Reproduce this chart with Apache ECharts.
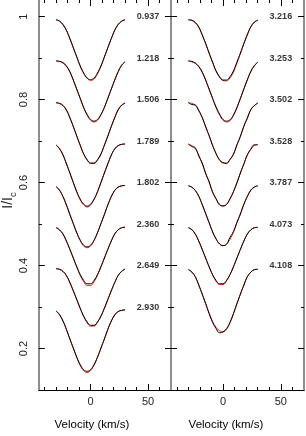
<!DOCTYPE html>
<html><head><meta charset="utf-8">
<script src="https://cdn.jsdelivr.net/npm/echarts@6/dist/echarts.min.js"></script>
<style>html,body{margin:0;padding:0;background:#fff}#c{width:306px;height:436px}</style>
</head><body><div id="c"></div>
<script>
// ---- data ----
const velocity = [-30,-27,-24,-21,-18,-15,-12,-9,-6,-3,0,3,6,9,12,15,18,21,24,27,30];
const xRange = [-45, 70];
const yRange = [0.1, 1.04];
const xMajorTicks = [0, 50];
const xMinorTicks = [-40,-30,-20,-10,10,20,30,40,60];
const yMajorTicks = [0.2,0.4,0.6,0.8,1.0];
const yMinorTicks = [0.3,0.5,0.7,0.9];
const leftPhases = ['0.937','1.218','1.506','1.789','1.802','2.360','2.649','2.930'];
const rightPhases = ['3.216','3.253','3.502','3.528','3.787','4.073','4.108'];
const labelLevels = [1.0,0.9,0.8,0.7,0.6,0.5,0.4,0.3];
const labelVelocity = 50;

// left panel: observed (black) and model (red)
const obs0937 = [0.992,0.989,0.981,0.967,0.947,0.925,0.903,0.881,0.864,0.852,0.848,0.852,0.864,0.881,0.903,0.925,0.947,0.967,0.981,0.989,0.992];
const mod0937 = [0.993,0.989,0.980,0.966,0.946,0.924,0.902,0.880,0.863,0.851,0.846,0.849,0.862,0.880,0.902,0.925,0.947,0.967,0.981,0.989,0.993];
const obs1218 = [0.893,0.892,0.889,0.881,0.867,0.847,0.825,0.803,0.781,0.764,0.752,0.748,0.752,0.764,0.781,0.803,0.825,0.847,0.867,0.883,0.891];
const mod1218 = [0.893,0.892,0.888,0.880,0.866,0.846,0.824,0.802,0.780,0.762,0.750,0.746,0.750,0.763,0.781,0.803,0.825,0.847,0.867,0.882,0.891];
const obs1506 = [0.792,0.791,0.786,0.775,0.756,0.735,0.712,0.690,0.669,0.655,0.647,0.647,0.655,0.669,0.690,0.712,0.735,0.756,0.775,0.786,0.791];
const mod1506 = [0.793,0.790,0.785,0.774,0.756,0.734,0.711,0.689,0.668,0.654,0.646,0.646,0.654,0.668,0.690,0.712,0.735,0.757,0.776,0.787,0.792];
const obs1789 = [0.690,0.681,0.666,0.645,0.623,0.600,0.578,0.560,0.548,0.543,0.548,0.560,0.578,0.600,0.623,0.645,0.666,0.681,0.689,0.692,0.693];
const mod1789 = [0.691,0.682,0.667,0.645,0.622,0.599,0.576,0.558,0.546,0.541,0.546,0.559,0.577,0.600,0.623,0.645,0.666,0.681,0.689,0.692,0.693];
const obs1802 = [0.590,0.581,0.566,0.546,0.523,0.501,0.479,0.461,0.449,0.445,0.449,0.461,0.479,0.501,0.523,0.546,0.566,0.581,0.589,0.592,0.593];
const mod1802 = [0.591,0.582,0.566,0.545,0.522,0.500,0.478,0.460,0.447,0.443,0.447,0.460,0.479,0.501,0.523,0.546,0.566,0.581,0.589,0.592,0.593];
const obs2360 = [0.491,0.486,0.476,0.459,0.439,0.418,0.397,0.378,0.364,0.356,0.356,0.364,0.378,0.397,0.418,0.439,0.459,0.476,0.486,0.491,0.492];
const mod2360 = [0.492,0.486,0.475,0.458,0.438,0.417,0.396,0.376,0.361,0.352,0.352,0.361,0.377,0.397,0.418,0.439,0.459,0.476,0.486,0.491,0.493];
const obs2649 = [0.392,0.391,0.386,0.376,0.359,0.339,0.318,0.297,0.278,0.264,0.256,0.256,0.264,0.278,0.297,0.318,0.339,0.359,0.376,0.386,0.391];
const mod2649 = [0.393,0.391,0.385,0.375,0.358,0.338,0.317,0.296,0.277,0.262,0.254,0.254,0.263,0.278,0.297,0.318,0.339,0.359,0.376,0.386,0.392];
const obs2930 = [0.290,0.281,0.266,0.246,0.223,0.201,0.179,0.161,0.149,0.145,0.149,0.161,0.179,0.201,0.223,0.246,0.266,0.281,0.289,0.292,0.293];
const mod2930 = [0.291,0.282,0.266,0.245,0.222,0.200,0.178,0.159,0.146,0.142,0.147,0.160,0.179,0.201,0.223,0.246,0.266,0.281,0.289,0.292,0.293];

// right panel
const obs3216 = [0.992,0.991,0.986,0.975,0.956,0.935,0.912,0.890,0.869,0.855,0.847,0.847,0.855,0.869,0.890,0.912,0.935,0.956,0.975,0.986,0.991];
const mod3216 = [0.993,0.991,0.985,0.974,0.956,0.934,0.911,0.889,0.868,0.854,0.846,0.845,0.852,0.866,0.888,0.911,0.935,0.957,0.976,0.987,0.992];
const obs3253 = [0.893,0.892,0.888,0.880,0.866,0.847,0.825,0.803,0.782,0.765,0.752,0.748,0.751,0.763,0.781,0.803,0.826,0.848,0.868,0.882,0.890];
const mod3253 = [0.893,0.891,0.887,0.879,0.866,0.846,0.824,0.802,0.780,0.763,0.750,0.746,0.749,0.761,0.780,0.802,0.825,0.847,0.867,0.881,0.890];
const obs3502 = [0.793,0.788,0.787,0.773,0.757,0.734,0.713,0.689,0.670,0.654,0.648,0.646,0.656,0.668,0.691,0.711,0.736,0.755,0.776,0.785,0.792];
const mod3502 = [0.792,0.791,0.786,0.775,0.756,0.735,0.712,0.690,0.669,0.655,0.647,0.647,0.655,0.669,0.690,0.712,0.735,0.756,0.775,0.786,0.791];
const obs3528 = [0.693,0.687,0.684,0.664,0.647,0.621,0.602,0.576,0.561,0.546,0.544,0.547,0.561,0.578,0.599,0.623,0.645,0.667,0.680,0.691,0.691];
const mod3528 = [0.692,0.689,0.681,0.666,0.645,0.623,0.600,0.578,0.560,0.548,0.543,0.548,0.560,0.578,0.600,0.623,0.645,0.666,0.681,0.689,0.692];
const obs3787 = [0.592,0.589,0.581,0.567,0.547,0.525,0.503,0.481,0.464,0.452,0.448,0.451,0.468,0.482,0.504,0.524,0.548,0.566,0.582,0.589,0.592];
const mod3787 = [0.592,0.589,0.581,0.567,0.547,0.525,0.503,0.481,0.464,0.452,0.448,0.452,0.463,0.480,0.503,0.525,0.547,0.567,0.581,0.589,0.592];
const obs4073 = [0.491,0.486,0.476,0.459,0.439,0.418,0.397,0.378,0.364,0.356,0.356,0.364,0.378,0.397,0.418,0.439,0.459,0.476,0.486,0.491,0.492];
const mod4073 = [0.492,0.487,0.476,0.459,0.438,0.417,0.396,0.377,0.362,0.354,0.354,0.363,0.378,0.397,0.418,0.439,0.459,0.476,0.486,0.491,0.492];
const obs4108 = [0.390,0.384,0.373,0.353,0.331,0.308,0.284,0.263,0.248,0.238,0.240,0.248,0.263,0.284,0.308,0.331,0.353,0.373,0.384,0.390,0.391];
const mod4108 = [0.391,0.385,0.373,0.353,0.331,0.308,0.285,0.265,0.251,0.243,0.240,0.246,0.262,0.284,0.308,0.331,0.353,0.373,0.384,0.390,0.391];

const leftObserved = [obs0937,obs1218,obs1506,obs1789,obs1802,obs2360,obs2649,obs2930];
const leftModel = [mod0937,mod1218,mod1506,mod1789,mod1802,mod2360,mod2649,mod2930];
const rightObserved = [obs3216,obs3253,obs3502,obs3528,obs3787,obs4073,obs4108];
const rightModel = [mod3216,mod3253,mod3502,mod3528,mod3787,mod4073,mod4108];

// ---- chart ----
const FONT = '"Liberation Sans", Arial, Helvetica, sans-serif';
const GRAY = '#8e8e8e';
const chart = echarts.init(document.getElementById('c'), null, {renderer: 'canvas'});

const panels = [
  {grid: {left: 37, top: 0, width: 134, height: 393}, obs: leftObserved, mod: leftModel, phases: leftPhases, labels: true, nameShift: 26},
  {grid: {left: 171, top: 0, width: 133, height: 393}, obs: rightObserved, mod: rightModel, phases: rightPhases, labels: false, nameShift: 23}
];

const xAxes = [], yAxes = [], series = [];
panels.forEach((p, g) => {
  const tick = (vals, len) => ({show: true, inside: true, length: len, customValues: vals, lineStyle: {color: '#000', width: 1}});
  const base = {type: 'value', gridIndex: g, min: xRange[0], max: xRange[1], splitLine: {show: false}};
  xAxes.push(Object.assign({}, base, {position: 'bottom', axisLine: {show: true, onZero: false, lineStyle: {color: '#000', width: 1}},
    axisTick: tick(xMinorTicks, 3), axisLabel: {show: false}}));
  xAxes.push(Object.assign({}, base, {position: 'bottom', axisLine: {show: false, onZero: false},
    axisTick: tick(xMajorTicks, 6),
    axisLabel: {show: true, customValues: xMajorTicks, margin: 6, fontSize: 11, color: '#222', fontFamily: FONT},
    name: 'Velocity (km/s)', nameLocation: 'middle', nameGap: 29,
    nameTextStyle: {fontSize: 11.5, color: '#000', fontFamily: FONT, padding: [0, p.nameShift, 0, 0]}}));
  xAxes.push(Object.assign({}, base, {position: 'top', axisLine: {show: false, onZero: false}, axisTick: tick(xMinorTicks, 3), axisLabel: {show: false}}));
  xAxes.push(Object.assign({}, base, {position: 'top', axisLine: {show: false, onZero: false}, axisTick: tick(xMajorTicks, 6), axisLabel: {show: false}}));

  const ybase = {type: 'value', gridIndex: g, min: yRange[0], max: yRange[1], splitLine: {show: false}};
  yAxes.push(Object.assign({}, ybase, {position: 'left', axisLine: {show: true, onZero: false, lineStyle: {color: GRAY, width: 2}},
    axisTick: tick(yMinorTicks, 3), axisLabel: {show: false}}));
  const leftMajor = Object.assign({}, ybase, {position: 'left', axisLine: {show: false, onZero: false},
    axisTick: tick(yMajorTicks, 6),
    axisLabel: {show: p.labels, customValues: yMajorTicks, rotate: 90, margin: 9, fontSize: 11, color: '#222', fontFamily: FONT}});
  if (p.labels) {
    Object.assign(leftMajor, {
      name: '{a|I/I}{b|c}', nameLocation: 'middle', nameGap: 19, nameRotate: 90,
      nameTextStyle: {padding: [0, 11, 0, 0], rich: {
        a: {fontSize: 14, fontFamily: FONT, color: '#222', lineHeight: 20, verticalAlign: 'middle'},
        b: {fontSize: 9.5, fontFamily: FONT, color: '#222', lineHeight: 9, verticalAlign: 'bottom'}
      }}
    });
  }
  yAxes.push(leftMajor);
  yAxes.push(Object.assign({}, ybase, {position: 'right', axisLine: {show: true, onZero: false, lineStyle: {color: GRAY, width: 2}},
    axisTick: tick(yMinorTicks, 3), axisLabel: {show: false}}));
  yAxes.push(Object.assign({}, ybase, {position: 'right', axisLine: {show: false, onZero: false}, axisTick: tick(yMajorTicks, 6), axisLabel: {show: false}}));

  const xi = g * 4 + 1, yi = g * 4 + 1;
  p.mod.forEach((arr) => {
    series.push({type: 'line', xAxisIndex: xi, yAxisIndex: yi, data: velocity.map((v, i) => [v, arr[i]]),
      showSymbol: false, smooth: 0.4, lineStyle: {color: '#e8291c', width: 1}, z: 2, silent: true});
  });
  p.obs.forEach((arr) => {
    series.push({type: 'line', xAxisIndex: xi, yAxisIndex: yi, data: velocity.map((v, i) => [v, arr[i]]),
      showSymbol: false, smooth: 0.4, lineStyle: {color: '#000', width: 1}, z: 3, silent: true});
  });
  series.push({type: 'scatter', xAxisIndex: xi, yAxisIndex: yi, symbolSize: 1, silent: true,
    itemStyle: {color: 'rgba(0,0,0,0)'},
    label: {show: true, position: 'inside', formatter: '{b}', fontSize: 9, fontWeight: 'bold', color: '#000', fontFamily: FONT},
    data: p.phases.map((ph, i) => ({name: ph, value: [labelVelocity, labelLevels[i]]}))});
});

chart.setOption({
  animation: false,
  backgroundColor: '#fff',
  grid: panels.map(p => p.grid),
  xAxis: xAxes,
  yAxis: yAxes,
  series: series
});
</script></body></html>
